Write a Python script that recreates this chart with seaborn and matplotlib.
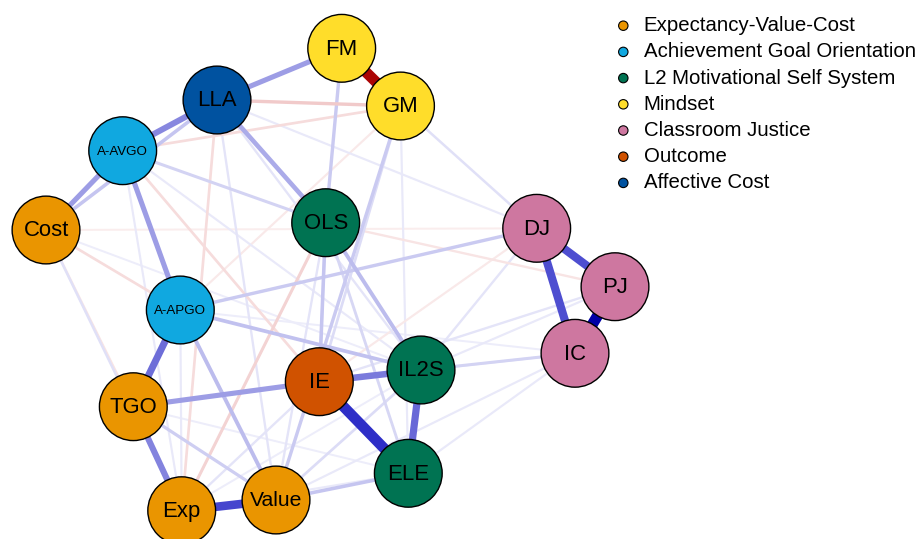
import numpy as np
import pandas as pd
import matplotlib
matplotlib.use("Agg")
import matplotlib.pyplot as plt
from matplotlib.colors import to_rgb
import seaborn as sns

# ---- network data -------------------------------------------------------
node_names = ["FM", "GM", "LLA", "A-AVGO", "Cost", "OLS", "DJ", "PJ", "IC",
              "A-APGO", "IE", "IL2S", "TGO", "ELE", "Value", "Exp"]
node_groups = ["Mindset", "Mindset", "Affective Cost", "Achievement Goal Orientation",
               "Expectancy-Value-Cost", "L2 Motivational Self System",
               "Classroom Justice", "Classroom Justice", "Classroom Justice",
               "Achievement Goal Orientation", "Outcome", "L2 Motivational Self System",
               "Expectancy-Value-Cost", "L2 Motivational Self System",
               "Expectancy-Value-Cost", "Expectancy-Value-Cost"]
# spring-layout coordinates of the nodes
layout_x = [341.7, 400.5, 217.0, 122.7, 46.0, 325.7, 536.7, 615.0, 575.0,
            180.3, 319.3, 421.0, 133.3, 408.3, 276.0, 181.7]
layout_y = [48.3, 106.0, 100.0, 150.7, 230.0, 222.7, 228.3, 286.7, 353.3,
            310.0, 381.7, 370.0, 406.7, 473.3, 500.0, 510.7]

group_order = ["Expectancy-Value-Cost", "Achievement Goal Orientation",
               "L2 Motivational Self System", "Mindset", "Classroom Justice",
               "Outcome", "Affective Cost"]
group_colors = ["#EA9500", "#10A8E0", "#007352", "#FFDD2A", "#CE77A0",
                "#D05200", "#0052A0"]

# partial-correlation edges
edge_from = ["FM", "PJ", "IE", "DJ", "DJ", "Exp", "IL2S", "IE", "TGO", "TGO",
             "LLA", "TGO", "LLA", "A-AVGO", "A-AVGO", "LLA", "LLA", "A-APGO",
             "A-APGO", "A-APGO", "Value", "GM", "OLS", "OLS", "OLS", "FM",
             "A-AVGO", "TGO", "LLA", "A-AVGO", "Exp", "Exp", "Cost", "Cost",
             "Cost", "A-AVGO", "GM", "GM", "GM", "GM", "IL2S", "IL2S", "Cost",
             "OLS", "LLA", "LLA", "Value", "Exp", "Exp", "Exp", "TGO", "ELE",
             "IL2S", "IE", "IE", "Value", "LLA", "A-AVGO", "A-APGO", "DJ",
             "IE", "TGO", "Cost", "A-APGO", "A-AVGO", "OLS"]
edge_to = ["GM", "IC", "ELE", "PJ", "IC", "Value", "ELE", "IL2S", "A-APGO", "Exp",
           "A-AVGO", "IE", "FM", "Cost", "A-APGO", "OLS", "Cost", "IL2S",
           "Value", "DJ", "ELE", "Value", "IL2S", "IE", "ELE", "OLS",
           "OLS", "Value", "GM", "GM", "LLA", "OLS", "A-APGO", "TGO",
           "Exp", "IE", "IE", "DJ", "ELE", "A-APGO", "IC", "DJ", "DJ",
           "PJ", "DJ", "Value", "IL2S", "IE", "ELE", "IL2S", "IL2S", "IC",
           "PJ", "PJ", "IC", "IC", "IL2S", "IL2S", "Exp", "IE",
           "OLS", "ELE", "IL2S", "IC", "Exp", "Value"]
edge_weight = [-0.55, 0.56, 0.47, 0.40, 0.40, 0.42, 0.34, 0.30, 0.33, 0.28,
               0.27, 0.22, 0.22, 0.22, 0.22, 0.19, 0.13, 0.14,
               0.15, 0.12, 0.13, 0.12, 0.15, 0.13, 0.09, 0.12,
               0.10, 0.11, -0.12, -0.08, -0.08, -0.10, -0.08, -0.06,
               0.07, -0.08, 0.08, 0.07, 0.05, -0.05, 0.10, 0.06, -0.04,
               -0.06, 0.05, 0.06, 0.08, 0.06, 0.05, 0.04, 0.05, 0.05,
               0.05, 0.06, 0.05, 0.05, 0.06, 0.05, 0.05, -0.05,
               0.07, 0.04, 0.04, 0.04, 0.05, 0.06]

# ---- styling ---------------------------------------------------------------
sns.set_theme(style="white")
plt.rcParams["font.family"] = ["Liberation Sans", "DejaVu Sans"]

nodes = pd.DataFrame({"name": node_names, "group": node_groups,
                      "x": layout_x, "y": layout_y})
pos = {n: (x, y) for n, x, y in zip(node_names, layout_x, layout_y)}
palette = dict(zip(group_order, group_colors))

fig = plt.figure(figsize=(9.21, 5.39), dpi=100)
ax = fig.add_axes([0, 0, 1, 1])

max_w = max(abs(w) for w in edge_weight)
white = np.array([1.0, 1.0, 1.0])
pos_mid, pos_full = np.array(to_rgb("#3030C8")), np.array(to_rgb("#0000A6"))
neg_mid, neg_full = np.array(to_rgb("#C83030")), np.array(to_rgb("#A80000"))


def edge_color(w):
    f = abs(w) / max_w
    mid, full = (pos_mid, pos_full) if w > 0 else (neg_mid, neg_full)
    t = 1.2 * f
    if t <= 1.0:
        return white * (1 - t) + mid * t
    t = min((f - 1 / 1.2) / (1 - 1 / 1.2), 1.0)
    return mid * (1 - t) + full * t


edges = pd.DataFrame({"a": edge_from, "b": edge_to, "w": edge_weight})
edges["absw"] = edges["w"].abs()
edges = edges.sort_values("absw")
for _, e in edges.iterrows():
    (x1, y1), (x2, y2) = pos[e["a"]], pos[e["b"]]
    f = e["absw"] / max_w
    width_px = 1.3 + 9.7 * f
    if e["a"] == "IE" and e["b"] == "ELE":
        width_px += 1.2
    ax.plot([x1, x2], [y1, y2], color=edge_color(e["w"]),
            lw=width_px * 0.72, solid_capstyle="butt", zorder=1)

sns.scatterplot(data=nodes, x="x", y="y", hue="group", palette=palette,
                s=2380, edgecolor="black", linewidth=1.0, legend=False,
                ax=ax, zorder=3)
ax.set_xlim(0, 921)
ax.set_ylim(539, 0)
ax.axis("off")

for n, x, y in zip(node_names, layout_x, layout_y):
    if n.startswith("A-"):
        fs = 9.6
    elif n == "Value":
        fs = 15.2
    else:
        fs = 15.9
    ax.text(x, y + 1, n, ha="center", va="center", fontsize=fs, color="black",
            zorder=4)

# legend
leg_y = [25.7 + 26.2 * i for i in range(len(group_order))]
ax.scatter([623.3] * len(group_order), leg_y, s=46, c=group_colors,
           edgecolors="black", linewidths=0.8, zorder=4, clip_on=False)
for g, y in zip(group_order, leg_y):
    ax.text(643.5, y, g, ha="left", va="center", fontsize=14.7, color="black",
            zorder=4)

fig.savefig("out.png", dpi=100)
